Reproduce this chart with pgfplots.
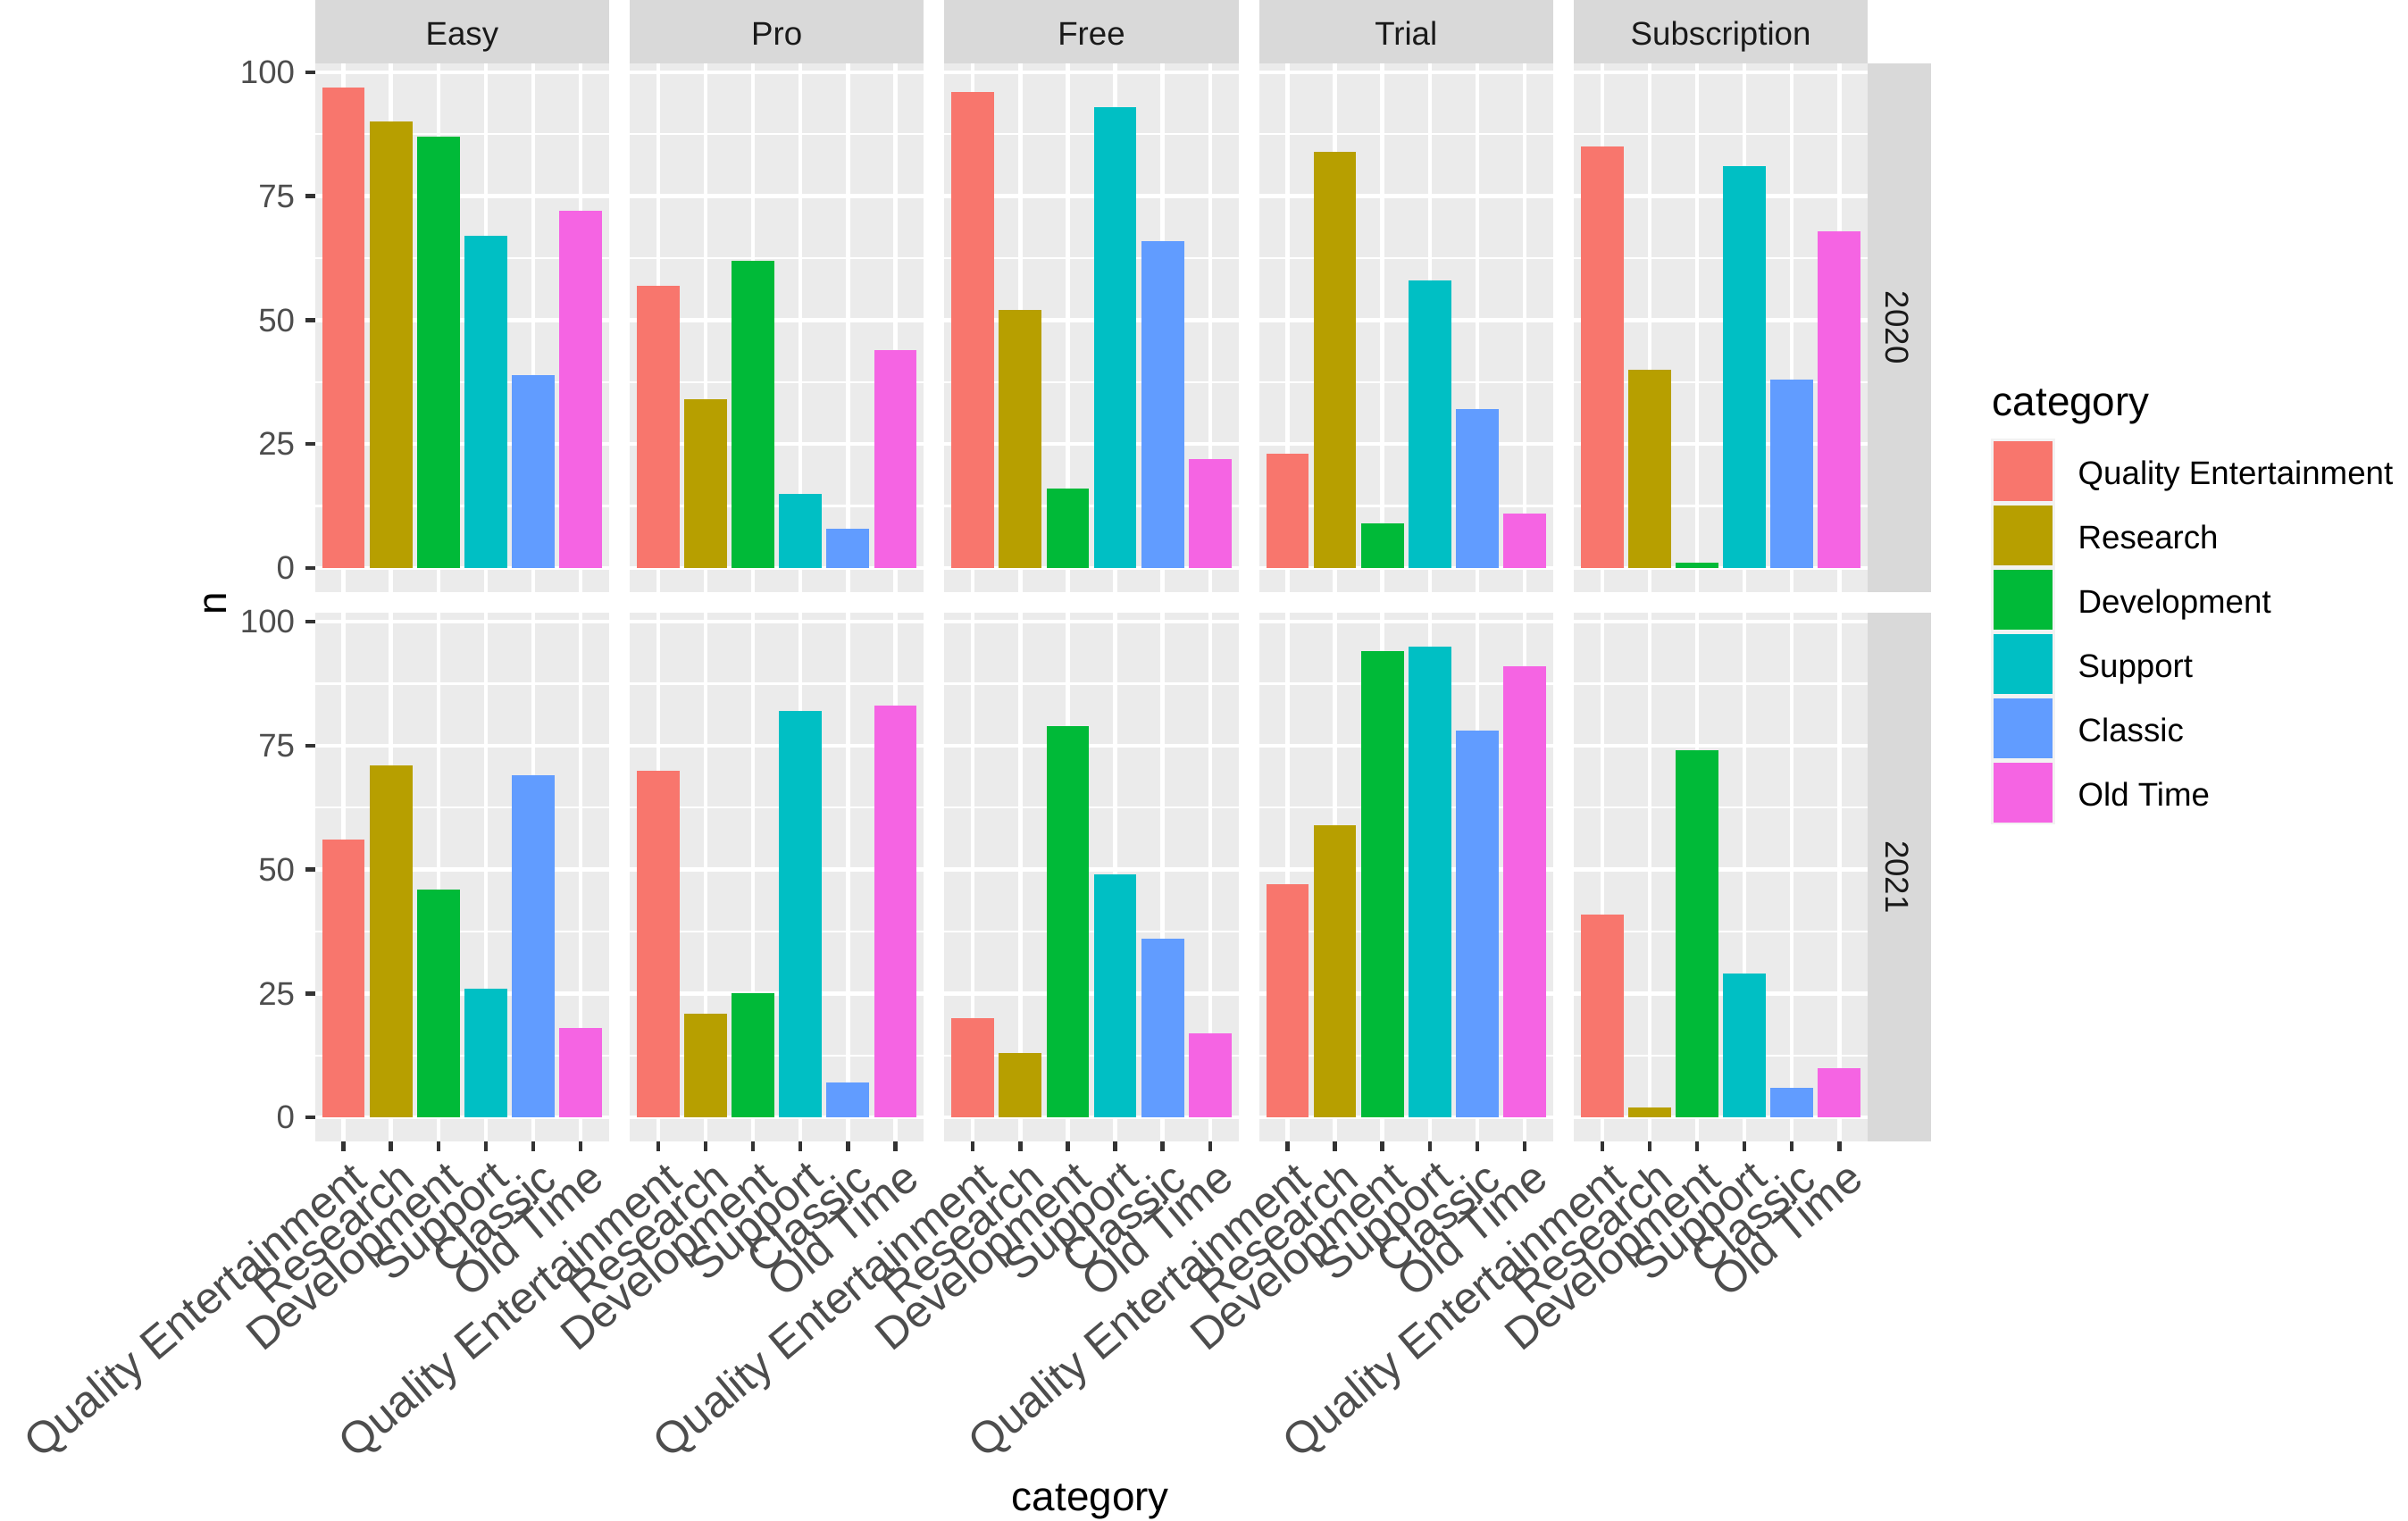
\documentclass[border=0pt]{standalone}
\usepackage{pgfplots}
\pgfplotsset{compat=1.18}
\usepackage{fontspec}
\setmainfont{Liberation Sans}

% ggplot2 hue palette, six categories
\definecolor{cQE}{HTML}{F8766D}
\definecolor{cRe}{HTML}{B79F00}
\definecolor{cDe}{HTML}{00BA38}
\definecolor{cSu}{HTML}{00BFC4}
\definecolor{cCl}{HTML}{619CFF}
\definecolor{cOT}{HTML}{F564E3}
\definecolor{panelbg}{HTML}{EBEBEB}
\definecolor{stripbg}{HTML}{D9D9D9}
\definecolor{grey30}{HTML}{4D4D4D}
\definecolor{grey20}{HTML}{333333}
\definecolor{grey10}{HTML}{1A1A1A}
\definecolor{grey95}{HTML}{F2F2F2}

\newcommand{\smallfont}{\fontsize{8.8}{10.5}\selectfont}
\newcommand{\titlefont}{\fontsize{11}{13}\selectfont}

% one facet: six bars, one per category
\newcommand{\bars}[6]{%
  \addplot[onebar, fill=cQE] coordinates {(1,#1)};
  \addplot[onebar, fill=cRe] coordinates {(2,#2)};
  \addplot[onebar, fill=cDe] coordinates {(3,#3)};
  \addplot[onebar, fill=cSu] coordinates {(4,#4)};
  \addplot[onebar, fill=cCl] coordinates {(5,#5)};
  \addplot[onebar, fill=cOT] coordinates {(6,#6)};
}

\pgfplotsset{
  onebar/.style={ybar, bar width=0.9, bar shift=0pt, draw=none},
  facet/.style={
    scale only axis, width=79.03pt, height=142.13pt, anchor=south west,
    xmin=0.4, xmax=6.6, ymin=-4.85, ymax=101.85,
    axis background/.style={fill=panelbg},
    axis line style={draw=none},
    xtick={1,2,3,4,5,6}, ytick={0,25,50,75,100},
    minor ytick={12.5,37.5,62.5,87.5},
    xmajorgrids, ymajorgrids, yminorgrids,
    major grid style={white, line width=1.07pt},
    minor grid style={white, line width=0.53pt},
    tick align=outside, major tick length=2.64pt, minor tick length=0pt,
    tick style={grey20, line width=1.07pt},
    xtick pos=bottom, ytick pos=left,
    xticklabels={}, yticklabels={},
  },
  firstcol/.style={
    yticklabels={0,25,50,75,100},
    yticklabel style={font=\smallfont, text=grey30, inner sep=0pt, xshift=-2.6pt},
  },
  innercol/.style={major y tick style={draw=none}},
  toprow/.style={major x tick style={draw=none}},
  bottomrow/.style={
    xticklabels={Quality Entertainment,Research,Development,Support,Classic,Old Time},
    xticklabel style={rotate=40, anchor=north east, font=\fontsize{12}{14}\selectfont,
      text=grey30, inner sep=0pt, yshift=-2.2pt},
  },
}

\begin{document}
\begin{tikzpicture}
\useasboundingbox (0,0) rectangle (647.04pt,408.72pt);

% ---- 2020 ----
\begin{axis}[facet, firstcol, toprow, at={(84.65pt,249.62pt)}]
  \bars{97}{90}{87}{67}{39}{72}
\end{axis}
\begin{axis}[facet, innercol, toprow, at={(169.2pt,249.62pt)}]
  \bars{57}{34}{62}{15}{8}{44}
\end{axis}
\begin{axis}[facet, innercol, toprow, at={(253.75pt,249.62pt)}]
  \bars{96}{52}{16}{93}{66}{22}
\end{axis}
\begin{axis}[facet, innercol, toprow, at={(338.3pt,249.62pt)}]
  \bars{23}{84}{9}{58}{32}{11}
\end{axis}
\begin{axis}[facet, innercol, toprow, at={(422.86pt,249.62pt)}]
  \bars{85}{40}{1}{81}{38}{68}
\end{axis}

% ---- 2021 ----
\begin{axis}[facet, firstcol, bottomrow, at={(84.65pt,101.98pt)}]
  \bars{56}{71}{46}{26}{69}{18}
\end{axis}
\begin{axis}[facet, innercol, bottomrow, at={(169.2pt,101.98pt)}]
  \bars{70}{21}{25}{82}{7}{83}
\end{axis}
\begin{axis}[facet, innercol, bottomrow, at={(253.75pt,101.98pt)}]
  \bars{20}{13}{79}{49}{36}{17}
\end{axis}
\begin{axis}[facet, innercol, bottomrow, at={(338.3pt,101.98pt)}]
  \bars{47}{59}{94}{95}{78}{91}
\end{axis}
\begin{axis}[facet, innercol, bottomrow, at={(422.86pt,101.98pt)}]
  \bars{41}{2}{74}{29}{6}{10}
\end{axis}

% column strips
\foreach \x/\lab in {84.65/Easy, 169.2/Pro, 253.75/Free, 338.3/Trial, 422.86/Subscription}{
  \fill[stripbg] (\x pt,391.75pt) rectangle ++(79.03pt,16.97pt);
  \node[font=\smallfont, text=grey10, anchor=base, inner sep=0pt] at (\x pt+39.515pt,396.55pt) {\lab};
}
% row strips
\fill[stripbg] (501.89pt,249.62pt) rectangle (518.86pt,391.75pt);
\node[font=\smallfont, text=grey10, rotate=-90, anchor=base, inner sep=0pt] at (506.7pt,320.69pt) {2020};
\fill[stripbg] (501.89pt,101.98pt) rectangle (518.86pt,244.11pt);
\node[font=\smallfont, text=grey10, rotate=-90, anchor=base, inner sep=0pt] at (506.7pt,173.05pt) {2021};

% axis titles
\node[font=\titlefont, rotate=90] at (57.8pt,246.6pt) {n};
\node[font=\titlefont, anchor=base, inner sep=0pt] at (293pt,2.7pt) {category};

% legend
\node[font=\titlefont, anchor=base west, inner sep=0pt] at (535.2pt,297.1pt) {category};
\foreach \i/\c/\lab in {0/cQE/Quality Entertainment, 1/cRe/Research, 2/cDe/Development,
                        3/cSu/Support, 4/cCl/Classic, 5/cOT/Old Time}{
  \pgfmathsetmacro{\ytop}{290.77-17.28*\i}
  \fill[grey95] (535.03pt,\ytop pt) rectangle ++(17.28pt,-17.28pt);
  \fill[\c] (535.73pt,\ytop pt-0.7pt) rectangle ++(15.88pt,-15.88pt);
  \node[font=\smallfont, anchor=base west, inner sep=0pt] at (558.2pt,\ytop pt-12.14pt) {\lab};
}
\end{tikzpicture}
\end{document}
